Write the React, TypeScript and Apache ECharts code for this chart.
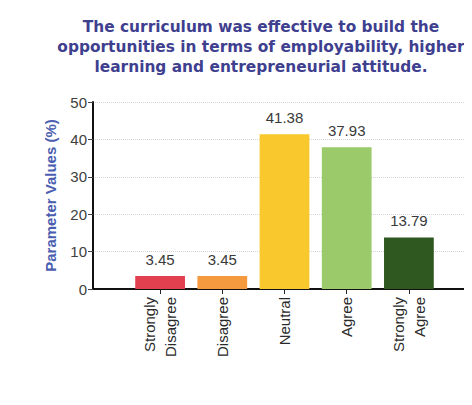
import React, { useEffect, useRef } from "react";
import * as echarts from "echarts";

const categories = ["Strongly\nDisagree", "Disagree", "Neutral", "Agree", "Strongly\nAgree"];
const values = [3.45, 3.45, 41.38, 37.93, 13.79];
const barColors = ["#e2404f", "#f59a3e", "#f8c82c", "#9bca6a", "#2f5820"];
const titleText =
  "The curriculum was effective to build the\nopportunities in terms of employability, higher\nlearning and entrepreneurial attitude.";
const yName = "Parameter Values (%)";

export default function App() {
  const ref = useRef<HTMLDivElement>(null);
  useEffect(() => {
    if (!ref.current) return;
    const chart = echarts.init(ref.current, undefined, { renderer: "svg" });
    chart.setOption({
      animation: false,
      backgroundColor: "#ffffff",
      title: {
        text: titleText,
        left: 256,
        textAlign: "center",
        top: 12,
        textStyle: {
          fontFamily: "DejaVu Sans",
          fontWeight: "bold",
          fontSize: 15.4,
          lineHeight: 20,
          color: "#3f3f8f",
        },
      },
      grid: [
        { left: 93, right: 0, top: 102, bottom: 116 },
        { left: 129, right: 32, top: 102, bottom: 116 },
      ],
      xAxis: [
        {
          gridIndex: 0,
          type: "value",
          min: 0,
          max: 1,
          axisLine: { show: true, lineStyle: { color: "#111", width: 2 } },
          axisTick: { show: false },
          axisLabel: { show: false },
          splitLine: { show: false },
        },
        {
          gridIndex: 1,
          type: "category",
          data: categories,
          axisLine: { show: false },
          axisTick: { show: true, alignWithLabel: true, length: 5, lineStyle: { color: "#222" } },
          axisLabel: {
            rotate: 90,
            fontFamily: "Liberation Sans",
            fontSize: 15,
            lineHeight: 21,
            color: "#2a2a2a",
            margin: 8,
          },
        },
      ],
      yAxis: [
        {
          gridIndex: 0,
          type: "value",
          min: 0,
          max: 50,
          interval: 10,
          name: yName,
          nameLocation: "middle",
          nameGap: 35,
          nameTextStyle: {
            fontFamily: "Liberation Sans",
            fontWeight: "bold",
            fontSize: 15,
            color: "#4a5db0",
          },
          axisLine: { show: true, lineStyle: { color: "#111", width: 2 } },
          axisTick: { show: true, length: 5, lineStyle: { color: "#444" } },
          axisLabel: {
            fontFamily: "Liberation Sans",
            fontSize: 15,
            color: "#404040",
            margin: 6,
          },
          splitLine: { show: true, lineStyle: { color: "#d4d4d4", type: "dotted", width: 1 } },
        },
        {
          gridIndex: 1,
          type: "value",
          min: 0,
          max: 50,
          show: false,
        },
      ],
      series: [
        {
          type: "bar",
          xAxisIndex: 1,
          yAxisIndex: 1,
          barWidth: "80%",
          data: values.map((v, i) => ({ value: v, itemStyle: { color: barColors[i] } })),
          label: {
            show: true,
            position: "top",
            distance: 9,
            fontFamily: "Liberation Sans",
            fontSize: 15,
            color: "#3a3a3a",
            formatter: (p: any) => p.value.toFixed(2),
          },
        },
      ],
    });
    return () => chart.dispose();
  }, []);
  return <div ref={ref} style={{ width: 472, height: 405, margin: -8 }} />;
}
